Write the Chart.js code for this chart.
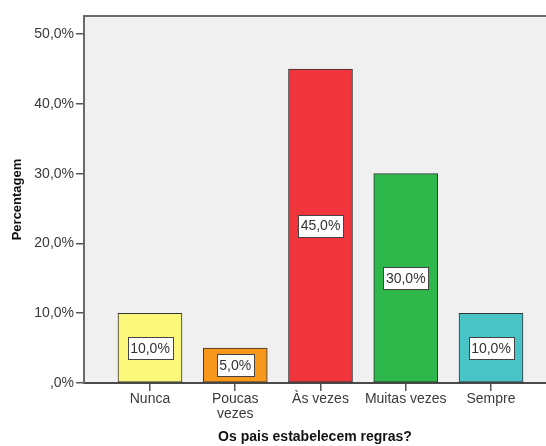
<!DOCTYPE html>
<html>
<head>
<meta charset="utf-8">
<script src="https://cdn.jsdelivr.net/npm/chart.js@4.4.7/dist/chart.umd.min.js"></script>
<style>
  html, body { margin: 0; padding: 0; background: #fff; }
</style>
</head>
<body>
<canvas id="chart" width="546" height="446"></canvas>
<script>
const categories = ["Nunca", "Poucas vezes", "Às vezes", "Muitas vezes", "Sempre"]
const tickLabels = ["Nunca", ["Poucas", "vezes"], "Às vezes", "Muitas vezes", "Sempre"]
const percentages = [10, 5, 45, 30, 10]
const yTicks = [0, 10, 20, 30, 40, 50]
const barColors = ["#FBF77A", "#F7981D", "#F1353D", "#2EB84B", "#48C3C6"]

const fmt = (v) => v === 0 ? ",0%" : v.toFixed(1).replace(".", ",") + "%"

const plotBackground = {
  id: "plotBackground",
  beforeDraw(chart) {
    const { ctx, chartArea: a } = chart
    ctx.save()
    ctx.fillStyle = "#F0F0F0"
    ctx.fillRect(a.left, a.top, a.right - a.left, a.bottom - a.top)
    ctx.restore()
  },
  afterDraw(chart) {
    const { ctx, chartArea: a } = chart
    ctx.save()
    ctx.strokeStyle = "#6a6a6a"
    ctx.lineWidth = 2
    ctx.beginPath()
    ctx.moveTo(a.left, a.top)
    ctx.lineTo(a.right, a.top)
    ctx.stroke()
    ctx.restore()
  }
}

const boxLabels = {
  id: "boxLabels",
  afterDatasetsDraw(chart) {
    const { ctx } = chart
    const meta = chart.getDatasetMeta(0)
    ctx.save()
    ctx.font = "14px 'Liberation Sans', Arial, sans-serif"
    ctx.textAlign = "center"
    ctx.textBaseline = "middle"
    meta.data.forEach((bar, i) => {
      const text = fmt(percentages[i])
      const w = ctx.measureText(text).width + 5
      const h = 22
      const cx = bar.x
      const cy = (bar.y + bar.base) / 2
      const x0 = Math.round(cx - w / 2) + 0.5
      const y0 = Math.round(cy - h / 2) + 0.5
      ctx.fillStyle = "#fff"
      ctx.fillRect(x0, y0, Math.round(w), h)
      ctx.strokeStyle = "#444"
      ctx.lineWidth = 1
      ctx.strokeRect(x0, y0, Math.round(w), h)
      ctx.fillStyle = "#333"
      ctx.fillText(text, cx, cy + 1)
    })
    ctx.restore()
  }
}

new Chart(document.getElementById("chart"), {
  type: "bar",
  data: {
    datasets: [{
      label: "Percentagem",
      data: categories.map((c, i) => ({ x: i, y: percentages[i] })),
      backgroundColor: barColors,
      borderColor: "#333",
      borderWidth: 1,
      borderSkipped: false,
      barThickness: 64
    }]
  },
  options: {
    responsive: false,
    animation: false,
    layout: { padding: { top: 16, left: 0, right: 0, bottom: 0 } },
    plugins: {
      legend: { display: false },
      tooltip: { enabled: false }
    },
    scales: {
      x: {
        type: "linear",
        offset: false,
        min: -0.774,
        max: 4.645,
        afterBuildTicks: (scale) => { scale.ticks = categories.map((c, i) => ({ value: i })) },
        afterFit: (scale) => { scale.height = 63 },
        grid: { offset: false, drawOnChartArea: false, drawTicks: true, tickLength: 8, color: "#555", lineWidth: 1.5 },
        border: { display: true, color: "#4a4a4a", width: 2 },
        ticks: {
          autoSkip: false,
          maxRotation: 0,
          padding: 1,
          color: "#3a3a3a",
          font: { family: "'Liberation Sans', Arial, sans-serif", size: 14, lineHeight: 1.07 },
          callback: (v) => tickLabels[v]
        },
        title: {
          display: true,
          text: "Os pais estabelecem regras?",
          color: "#111",
          padding: { top: 0, bottom: 0 },
          font: { family: "'Liberation Sans', Arial, sans-serif", size: 14, weight: "bold", lineHeight: 1.2 }
        }
      },
      y: {
        min: 0,
        max: 52.6,
        afterBuildTicks: (scale) => { scale.ticks = yTicks.map(v => ({ value: v })) },
        afterFit: (scale) => { scale.width = 84 },
        grid: { drawOnChartArea: false, drawTicks: true, tickLength: 8, color: "#555", lineWidth: 1.5 },
        border: { display: true, color: "#6a6a6a", width: 2 },
        ticks: {
          padding: 2,
          color: "#3a3a3a",
          font: { family: "'Liberation Sans', Arial, sans-serif", size: 14 },
          callback: (v) => fmt(v)
        },
        title: {
          display: true,
          text: "Percentagem",
          color: "#111",
          padding: { top: 10, bottom: 0 },
          font: { family: "'Liberation Sans', Arial, sans-serif", size: 13, weight: "bold", lineHeight: 1.2 }
        }
      }
    }
  },
  plugins: [plotBackground, boxLabels]
})
</script>
</body>
</html>
